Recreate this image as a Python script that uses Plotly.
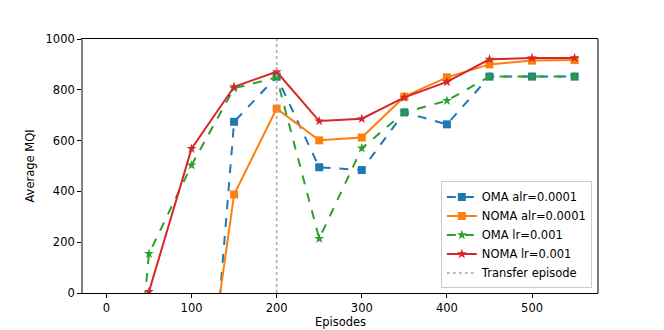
import plotly.graph_objects as go

episodes = [0, 50, 100, 150, 200, 250, 300, 350, 400, 450, 500, 550]
oma_alr = [-1400, -1400, -1383, 674, 852, 495, 484, 711, 664, 852, 852, 852]
noma_alr = [-800, -800, -800, 388, 726, 601, 612, 773, 849, 900, 915, 917]
oma_lr = [-1650, 155, 503, 806, 849, 214, 570, 711, 757, 852, 852, 852]
noma_lr = [-1500, 5, 568, 812, 871, 677, 686, 770, 831, 920, 925, 925]
transfer_x = [200, 200]
transfer_y = [0, 1000]

FONT = "DejaVu Sans"
fig = go.Figure()

series = [
    ("OMA alr=0.0001", oma_alr, "#1f77b4", "dash", "square", 8),
    ("NOMA alr=0.0001", noma_alr, "#ff7f0e", "solid", "square", 8),
    ("OMA lr=0.001", oma_lr, "#2ca02c", "dash", "star", 7.5),
    ("NOMA lr=0.001", noma_lr, "#d62728", "solid", "star", 7.5),
]
for name, ys, col, dash, sym, sz in series:
    fig.add_trace(go.Scatter(
        x=episodes, y=ys, name=name, mode="lines+markers",
        line=dict(color=col, width=2, dash=dash),
        marker=dict(color=col, symbol=sym, size=sz),
    ))

fig.add_trace(go.Scatter(
    x=transfer_x, y=transfer_y, name="Transfer episode", mode="lines",
    line=dict(color="#aaaaaa", width=1.6, dash="dot"),
))

axis_common = dict(
    showline=True, linewidth=1,
    ticks="outside", ticklen=4, tickcolor="black", tickwidth=1,
    showgrid=False, zeroline=False, automargin=False,
    tickfont=dict(family=FONT, size=11.5, color="black"),
)

fig.add_shape(type="line", xref="paper", yref="paper", x0=1, x1=1, y0=0, y1=1,
              line=dict(color="#222222", width=1.2), layer="above")

fig.update_layout(
    width=664, height=330,
    margin=dict(l=83, r=66, t=39, b=37),
    paper_bgcolor="white", plot_bgcolor="white",
    font=dict(family=FONT, size=11.5, color="black"),
    showlegend=True,
    legend=dict(
        x=0.988, y=0.018, xanchor="right", yanchor="bottom",
        bordercolor="#cccccc", borderwidth=1, bgcolor="rgba(255,255,255,0.85)",
        font=dict(family=FONT, size=11.5, color="black"),
        itemwidth=30, tracegroupgap=0,
    ),
    xaxis=dict(
        range=[-27.5, 577.5], tickvals=[0, 100, 200, 300, 400, 500],
        linecolor="black", mirror=True,
        title=dict(text="Episodes", standoff=4, font=dict(family=FONT, size=11.5)),
        **axis_common,
    ),
    yaxis=dict(
        range=[0, 1000], tickvals=[0, 200, 400, 600, 800, 1000],
        linecolor="#808080", mirror=False, linewidth=1.8,
        title=dict(text="Average MQI", standoff=8, font=dict(family=FONT, size=11.5)),
        **{k: v for k, v in axis_common.items() if k != "linewidth"},
    ),
)

fig.write_html("out.html", config={"displayModeBar": False},
               post_script="document.body.style.margin='0px';document.body.style.overflow='hidden';")
